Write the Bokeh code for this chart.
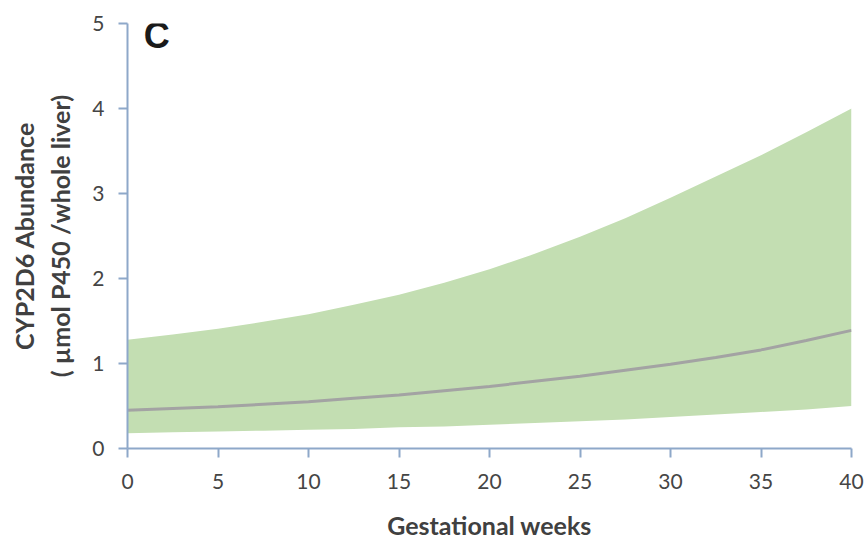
from bokeh.plotting import figure
from bokeh.models import Label, Range1d, ColumnDataSource
from bokeh.embed import file_html
from bokeh.resources import INLINE

weeks = [0, 2.5, 5, 7.5, 10, 12.5, 15, 17.5, 20, 22.5, 25, 27.5, 30, 32.5, 35, 37.5, 40]
upper = [1.28, 1.34, 1.41, 1.49, 1.58, 1.69, 1.81, 1.95, 2.11, 2.29, 2.49, 2.71, 2.95, 3.20, 3.45, 3.72, 4.00]
median = [0.45, 0.47, 0.49, 0.52, 0.55, 0.59, 0.63, 0.68, 0.73, 0.79, 0.85, 0.92, 0.99, 1.07, 1.16, 1.27, 1.39]
lower = [0.18, 0.19, 0.20, 0.21, 0.22, 0.23, 0.25, 0.26, 0.28, 0.30, 0.32, 0.34, 0.37, 0.40, 0.43, 0.46, 0.50]
x_ticks = [0, 5, 10, 15, 20, 25, 30, 35, 40]
y_ticks = [0, 1, 2, 3, 4, 5]

src = ColumnDataSource(dict(x=weeks, up=upper, med=median, lo=lower))

p = figure(width=868, height=543, output_backend="svg", toolbar_location=None,
           x_range=Range1d(0, 40), y_range=Range1d(0, 5),
           min_border_left=127, min_border_right=17, min_border_top=23, min_border_bottom=95)
p.outline_line_color = None
p.xgrid.visible = False
p.ygrid.visible = False

p.varea(x="x", y1="lo", y2="up", source=src, fill_color="#C3DEB2", fill_alpha=1)
p.line(x="x", y="med", source=src, line_color="#A3A3A3", line_width=3)

axis_col = "#8EA8C9"
for ax in (p.xaxis[0], p.yaxis[0]):
    ax.axis_line_color = axis_col
    ax.axis_line_width = 2
    ax.major_tick_line_color = axis_col
    ax.major_tick_line_width = 2
    ax.major_tick_out = 9
    ax.major_tick_in = 0
    ax.minor_tick_line_color = None
    ax.major_label_text_font = "Lato"
    ax.major_label_text_font_size = "21px"
    ax.major_label_text_color = "#454545"
    ax.axis_label_text_font = "Lato"
    ax.axis_label_text_font_style = "bold"
    ax.axis_label_text_font_size = "25px"
    ax.axis_label_text_color = "#404040"

p.xaxis.ticker = x_ticks
p.yaxis.ticker = y_ticks
p.xaxis.axis_label = "Gestational weeks"
p.yaxis.axis_label = "CYP2D6 Abundance\n( \u00b5mol P450 /whole liver)"
p.xaxis.major_label_standoff = 16
p.xaxis.axis_label_standoff = 18
p.yaxis.major_label_standoff = 14
p.yaxis.axis_label_standoff = 14

p.add_layout(Label(x=0.9, y=4.86, text="C", text_font="Liberation Sans", text_font_style="bold",
                   text_font_size="36px", text_color="#1a1a1a", text_baseline="middle"))

open("out.html", "w").write(file_html(p, INLINE))
